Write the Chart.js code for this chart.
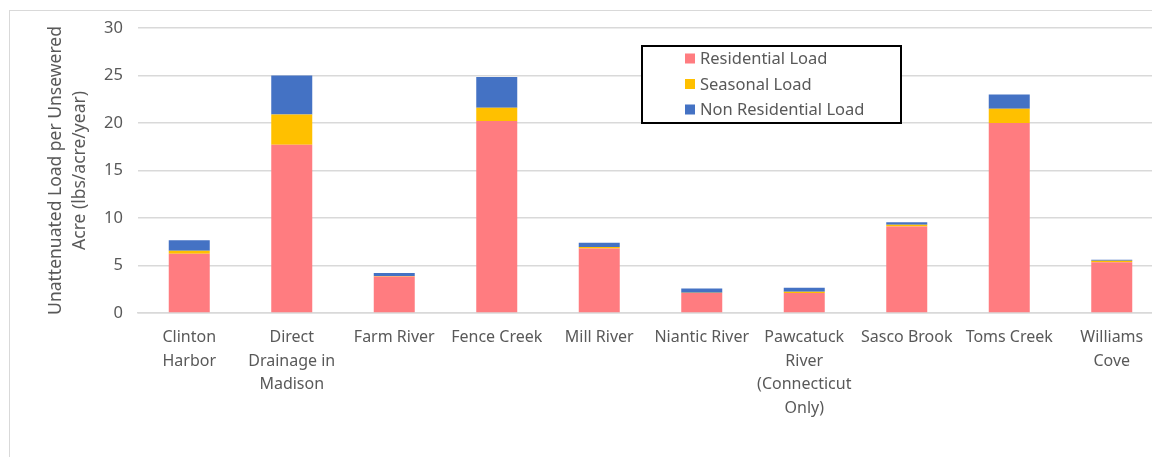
<!DOCTYPE html>
<html>
<head>
<meta charset="utf-8">
<script src="https://cdn.jsdelivr.net/npm/chart.js@4.4.1/dist/chart.umd.min.js"></script>
<style>
  html, body { margin: 0; padding: 0; background: #fff; overflow: hidden; }
  #wrap { position: relative; width: 1152px; height: 457px; overflow: hidden; }
  #frame { position: absolute; left: 9px; top: 10px; width: 1300px; height: 600px; border: 1px solid #d9d9d9; }
  #box { position: absolute; left: 0; top: 0; width: 1165px; height: 457px; }
</style>
</head>
<body>
<div id="wrap">
  <div id="frame"></div>
  <div id="box"><canvas id="chart"></canvas></div>
</div>
<script>
const CATEGORIES = [
  ["Clinton", "Harbor"],
  ["Direct", "Drainage in", "Madison"],
  "Farm River",
  "Fence Creek",
  "Mill River",
  "Niantic River",
  ["Pawcatuck", "River", "(Connecticut", "Only)"],
  "Sasco Brook",
  "Toms Creek",
  ["Williams", "Cove"],
];

const RESIDENTIAL = [6.25, 17.7, 3.85, 20.2, 6.8, 2.1, 2.1, 9.1, 20.0, 5.35];
const SEASONAL = [0.3, 3.2, 0.05, 1.4, 0.15, 0.02, 0.15, 0.2, 1.5, 0.15];
const NON_RESIDENTIAL = [1.1, 4.1, 0.3, 3.25, 0.45, 0.45, 0.4, 0.25, 1.5, 0.1];

const Y_TITLE = ["Unattenuated Load per Unsewered", "Acre (lbs/acre/year)"];

const COLORS = ["#ff7c80", "#ffc000", "#4472c4"];
const FONT = "'Noto Sans', 'Open Sans', sans-serif";
const TEXT = "#595959";
const GRID = "#d9d9d9";

// legend drawn in a bordered box inside the plot, like the original
const boxLegend = {
  id: "boxLegend",
  afterDraw(chart) {
    const ctx = chart.ctx;
    ctx.save();
    ctx.strokeStyle = "#000";
    ctx.lineWidth = 2;
    ctx.fillStyle = "#fff";
    ctx.fillRect(642, 46, 259, 77);
    ctx.strokeRect(642, 46, 259, 77);
    ctx.font = "16.5px " + FONT;
    ctx.textBaseline = "middle";
    chart.data.datasets.forEach((ds, i) => {
      const y = 58.5 + i * 25.5;
      ctx.fillStyle = ds.backgroundColor;
      ctx.fillRect(685, y - 5, 10, 10);
      ctx.fillStyle = TEXT;
      ctx.fillText(ds.label, 700, y + 1);
    });
    ctx.restore();
  },
};

new Chart(document.getElementById("chart"), {
  type: "bar",
  data: {
    labels: CATEGORIES,
    datasets: [
      { label: "Residential Load", data: RESIDENTIAL, backgroundColor: COLORS[0] },
      { label: "Seasonal Load", data: SEASONAL, backgroundColor: COLORS[1] },
      { label: "Non Residential Load", data: NON_RESIDENTIAL, backgroundColor: COLORS[2] },
    ],
  },
  options: {
    responsive: true,
    maintainAspectRatio: false,
    animation: false,
    categoryPercentage: 1,
    barPercentage: 0.4,
    layout: { padding: { left: 40, top: 28, right: 2, bottom: 0 } },
    plugins: {
      legend: { display: false },
      tooltip: { enabled: false },
    },
    scales: {
      x: {
        stacked: true,
        grid: { display: false, drawTicks: false },
        border: { color: GRID, width: 1.5 },
        ticks: {
          color: TEXT,
          padding: 13,
          maxRotation: 0,
          autoSkip: false,
          font: { family: FONT, size: 16, lineHeight: 1.47 },
        },
        afterFit(scale) { scale.height = 144; },
      },
      y: {
        stacked: true,
        min: 0,
        max: 30,
        ticks: {
          stepSize: 5,
          color: TEXT,
          padding: 15,
          font: { family: FONT, size: 16.5 },
        },
        grid: { color: GRID, lineWidth: 1.5, drawTicks: false },
        border: { display: false },
        title: {
          display: true,
          text: Y_TITLE,
          color: TEXT,
          padding: { top: 4, bottom: 0 },
          font: { family: FONT, size: 17.5, lineHeight: 1.37 },
        },
        afterFit(scale) { scale.width = 98; },
      },
    },
  },
  plugins: [boxLegend],
});
</script>
</body>
</html>
